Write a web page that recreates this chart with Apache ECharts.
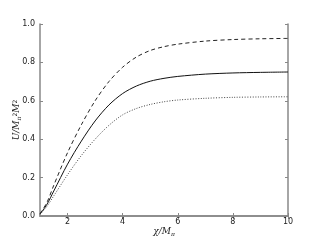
<!DOCTYPE html>
<html>
<head>
<meta charset="utf-8">
<script src="https://cdn.jsdelivr.net/npm/echarts@6/dist/echarts.min.js"></script>
<style>
  html, body { margin: 0; padding: 0; background: #fff; }
  #chart { width: 320px; height: 240px; }
</style>
</head>
<body>
<div id="chart"></div>
<script>
// values
const xValues = [1, 1.25, 1.5, 2, 2.5, 3, 3.5, 4, 4.5, 5, 5.5, 6, 7, 8, 9, 10];
const dashedVals = [0.012, 0.07, 0.16, 0.33, 0.475, 0.60, 0.70, 0.775, 0.828, 0.862, 0.882, 0.895, 0.911, 0.919, 0.923, 0.925];
const solidVals  = [0.010, 0.06, 0.13, 0.27, 0.39, 0.495, 0.578, 0.638, 0.677, 0.702, 0.717, 0.727, 0.739, 0.745, 0.748, 0.750];
const dottedVals = [0.008, 0.05, 0.105, 0.215, 0.315, 0.40, 0.472, 0.527, 0.56, 0.581, 0.595, 0.604, 0.613, 0.618, 0.620, 0.621];
const xTicks = [2, 4, 6, 8, 10];

const pairs = vals => xValues.map((x, i) => [x, vals[i]]);

const spine = { show: true, lineStyle: { color: '#888', width: 1.5 } };
const labelFont = { fontFamily: 'DejaVu Sans', fontSize: 8, color: '#222' };
const mathRich = {
  i: { fontFamily: 'DejaVu Serif', fontStyle: 'italic', fontSize: 9, color: '#222' },
  sub: { fontFamily: 'DejaVu Serif', fontStyle: 'italic', fontSize: 6, color: '#222', padding: [4, 0, 0, 0] },
  sup: { fontFamily: 'DejaVu Sans', fontSize: 6, color: '#222', padding: [0, 0, 4, 0] }
};

const chart = echarts.init(document.getElementById('chart'), null, { renderer: 'canvas' });

const baseLine = (name, vals, type, color) => ({
  name: name,
  type: 'line',
  data: pairs(vals),
  smooth: 0.3,
  showSymbol: false,
  animation: false,
  lineStyle: { color: color, width: 1, type: type }
});

chart.setOption({
  animation: false,
  grid: { left: 40, right: 32, top: 24, bottom: 24, containLabel: false, outerBoundsMode: 'none' },
  xAxis: [{
    type: 'value', min: 1, max: 10,
    axisLine: spine,
    axisTick: { show: true, inside: true, length: 3, lineStyle: { color: '#888' }, customValues: xTicks },
    axisLabel: Object.assign({ margin: 2, customValues: xTicks }, labelFont),
    splitLine: { show: false },
    name: '{i|χ/M}{sub|π}', nameLocation: 'middle', nameGap: 11, nameMoveOverlap: false,
    nameTextStyle: { rich: mathRich }
  }, {
    type: 'value', min: 1, max: 10, position: 'top',
    axisLine: spine,
    axisTick: { show: true, inside: true, length: 3, lineStyle: { color: '#888' }, customValues: xTicks },
    axisLabel: { show: false },
    splitLine: { show: false }
  }],
  yAxis: [{
    type: 'value', min: 0, max: 1, interval: 0.2,
    axisLine: spine,
    axisTick: { show: true, inside: true, length: 3, lineStyle: { color: '#888' } },
    axisLabel: Object.assign({ margin: 5, formatter: v => v.toFixed(1) }, labelFont),
    splitLine: { show: false },
    name: '{i|U/M}{sub|π}{sup|2}{i|M}{sup|2}', nameLocation: 'middle', nameRotate: 90, nameGap: 18, nameMoveOverlap: false,
    nameTextStyle: { rich: mathRich }
  }, {
    type: 'value', min: 0, max: 1, interval: 0.2, position: 'right',
    axisLine: spine,
    axisTick: { show: true, inside: true, length: 3, lineStyle: { color: '#888' } },
    axisLabel: { show: false },
    splitLine: { show: false }
  }],
  series: [
    baseLine('dashed', dashedVals, [4, 3], '#222'),
    baseLine('solid', solidVals, 'solid', '#111'),
    baseLine('dotted', dottedVals, [1, 1.6], '#444')
  ]
});
</script>
</body>
</html>
